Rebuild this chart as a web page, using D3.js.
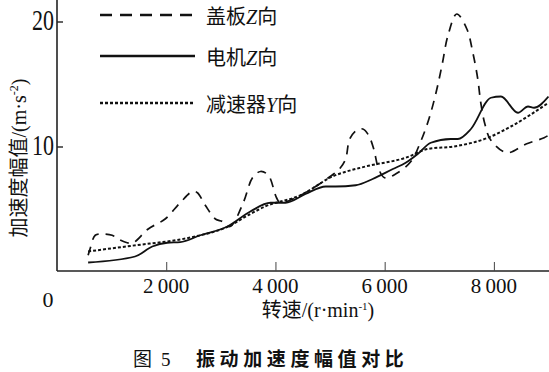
<!DOCTYPE html>
<html>
<head>
<meta charset="utf-8">
<script src="https://cdn.jsdelivr.net/npm/d3@7"></script>
<style>
  body { margin: 0; background: #fff; }
  text { font-family: "Liberation Serif", "Noto Sans CJK SC", serif; fill: #111; }
</style>
</head>
<body>
<script>
// speed (r/min) and amplitude (m/s^2)
var gaiban_rpm = [570, 605, 700, 825, 1010, 1120, 1285, 1395, 1670, 1980, 2255, 2480, 2570, 2715, 2900, 3030, 3170, 3410, 3580, 3725, 3870, 4020, 4090, 4460, 5065, 5190, 5285, 5360, 5485, 5600, 5705, 5800, 5890, 6000, 6200, 6480, 6660, 6810, 6940, 7050, 7160, 7320, 7505, 7615, 7705, 7760, 7835, 7945, 8240, 8590, 8920, 9000];
var gaiban_val = [1.3, 1.8, 2.9, 3.0, 2.9, 2.6, 2.3, 2.3, 3.4, 4.2, 5.5, 6.4, 6.3, 5.3, 4.2, 4.0, 3.6, 5.5, 7.5, 8.0, 7.7, 5.9, 5.5, 6.1, 7.8, 8.3, 9.0, 10.6, 11.3, 11.4, 10.9, 9.8, 8.2, 7.5, 7.8, 8.8, 10.4, 12.2, 14.3, 16.5, 18.9, 20.6, 19.4, 17.5, 15.4, 13.5, 11.8, 10.5, 9.5, 10.2, 10.7, 10.9];

var dianji_rpm = [570, 1430, 1745, 2020, 2255, 2625, 3120, 3540, 3910, 4185, 4550, 4920, 5100, 5470, 5780, 6150, 6385, 6605, 6845, 7210, 7340, 7580, 7945, 8130, 8440, 8625, 8735, 9000];
var dianji_val = [0.72, 1.2, 2.0, 2.3, 2.35, 2.9, 3.6, 4.8, 5.5, 5.5, 6.2, 6.8, 6.8, 6.9, 7.4, 8.2, 8.7, 9.4, 10.3, 10.6, 10.6, 11.4, 13.9, 14.0, 12.7, 13.2, 13.1, 14.0];

var jiansu_rpm = [570, 1705, 2020, 2625, 3085, 3540, 3810, 4460, 5045, 5650, 6385, 6790, 7265, 7890, 8310, 9000];
var jiansu_val = [1.6, 2.24, 2.4, 2.9, 3.5, 4.6, 5.2, 6.1, 7.6, 8.4, 9.1, 9.8, 10.0, 10.7, 11.6, 13.5];

var x_ticks = [2000, 4000, 6000, 8000];
var y_ticks = [10, 20];
var legend_names = ["盖板", "电机", "减速器"];
var legend_axis = ["Z", "Z", "Y"];

var w = 549, h = 372;

var svg = d3.select("body").append("svg")
    .attr("width", w)
    .attr("height", h);

var x = d3.scaleLinear().domain([0, 9000]).range([57, 548.5]);
var y = d3.scaleLinear().domain([0, 20]).range([271.5, 21.5]);

// axes
var xAxis = svg.append("g")
    .attr("transform", "translate(0,271)")
    .call(d3.axisTop(x).tickValues(x_ticks).tickSize(9).tickFormat(""));
xAxis.select(".domain").attr("d", "M57,0H549").attr("stroke", "#222").attr("stroke-width", 1.6);
xAxis.selectAll(".tick line").attr("stroke", "#444").attr("stroke-width", 1);

var yAxis = svg.append("g")
    .attr("transform", "translate(57,0)")
    .call(d3.axisRight(y).tickValues(y_ticks).tickSize(6).tickFormat(""));
yAxis.select(".domain").attr("d", "M0,0V271").attr("stroke", "#222").attr("stroke-width", 1.6);
yAxis.selectAll(".tick line").attr("stroke", "#222").attr("stroke-width", 1.4);

// tick labels
svg.selectAll("text.xt").data(x_ticks).enter().append("text")
    .attr("class", "xt")
    .attr("x", function (d) { return x(d); })
    .attr("y", 293)
    .attr("text-anchor", "middle")
    .style("font-size", "21px")
    .text(function (d) { return d3.format(",")(d).replace(",", "\u2009"); });

svg.selectAll("text.yt").data(y_ticks).enter().append("text")
    .attr("class", "yt")
    .attr("x", 54)
    .attr("y", function (d) { return y(d) + 9; })
    .attr("text-anchor", "end")
    .attr("transform", function (d) { return "translate(0," + (y(d) + 9) + ") scale(1,1.3) translate(0," + (-(y(d) + 9)) + ")"; })
    .style("font-size", "22px")
    .text(function (d) { return d; });

svg.append("text")
    .attr("x", 48).attr("y", 307)
    .attr("text-anchor", "middle")
    .style("font-size", "22px")
    .text("0");

// axis titles
var xl = svg.append("text")
    .attr("x", 318).attr("y", 317)
    .attr("text-anchor", "middle")
    .style("font-size", "20px");
xl.append("tspan").text("转速/(r·min");
xl.append("tspan").attr("dy", -7).style("font-size", "11px").text("-1");
xl.append("tspan").attr("dy", 7).text(")");

var yl = svg.append("text")
    .attr("transform", "translate(26,158) rotate(-90)")
    .attr("text-anchor", "middle")
    .style("font-size", "20px");
yl.append("tspan").text("加速度幅值/(m·s");
yl.append("tspan").attr("dy", -8).style("font-size", "12px").text("-2");
yl.append("tspan").attr("dy", 8).text(")");

// caption
var cap = svg.append("text")
    .attr("x", 133).attr("y", 366)
    .style("font-size", "19px");
cap.append("tspan").style("font-family", "'Noto Sans CJK SC'").text("图");
cap.append("tspan").attr("x", 161).text("5");
cap.append("tspan").attr("x", 196)
    .style("font-family", "'Noto Sans CJK SC'")
    .style("font-weight", "bold")
    .style("letter-spacing", "4.6px")
    .text("振动加速度幅值对比");

// curves
var series = [
    { rpm: gaiban_rpm, val: gaiban_val, dash: "9,7", width: 1.7, curve: d3.curveCatmullRom },
    { rpm: dianji_rpm, val: dianji_val, dash: null, width: 1.8, curve: d3.curveMonotoneX },
    { rpm: jiansu_rpm, val: jiansu_val, dash: "3,2", width: 2, curve: d3.curveMonotoneX }
];

series.forEach(function (s) {
    var pts = s.rpm.map(function (r, i) { return [r, s.val[i]]; });
    var line = d3.line()
        .x(function (d) { return x(d[0]); })
        .y(function (d) { return y(d[1]); })
        .curve(s.curve);
    svg.append("path")
        .datum(pts)
        .attr("d", line)
        .attr("fill", "none")
        .attr("stroke", "#111")
        .attr("stroke-width", s.width)
        .attr("stroke-dasharray", s.dash);
});

// legend
var leg_y = [15, 56, 103];
var leg_dash = ["12,8", null, "3,2"];
legend_names.forEach(function (n, i) {
    svg.append("line")
        .attr("x1", 100).attr("x2", 195)
        .attr("y1", leg_y[i]).attr("y2", leg_y[i])
        .attr("stroke", "#111")
        .attr("stroke-width", i == 1 ? 2.6 : 2.4)
        .attr("stroke-dasharray", leg_dash[i]);
    var t = svg.append("text")
        .attr("x", 206).attr("y", leg_y[i] + 9)
        .style("font-size", "20px");
    t.append("tspan").text(n);
    t.append("tspan")
        .style("font-family", "'Liberation Serif', 'DejaVu Serif', serif")
        .style("font-style", "italic")
        .text(legend_axis[i]);
    t.append("tspan").text("向");
});
</script>
</body>
</html>
